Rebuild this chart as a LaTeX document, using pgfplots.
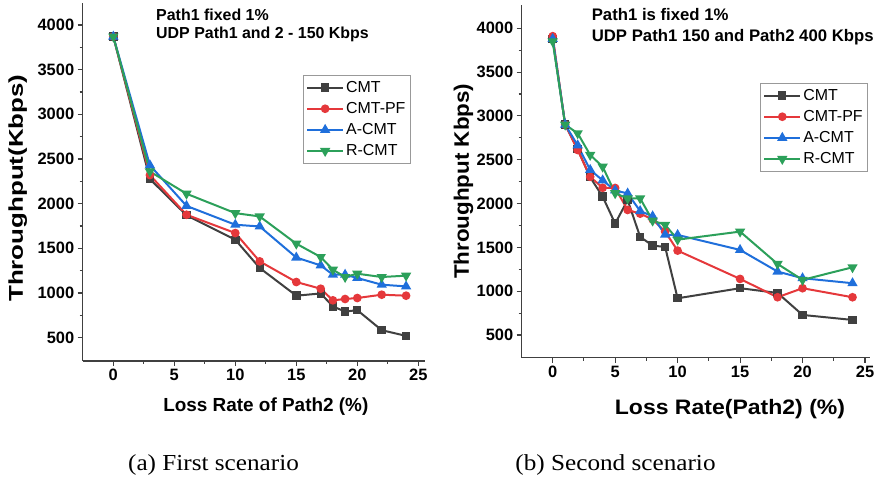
\documentclass[border=0pt]{standalone}
\usepackage{pgfplots}
\pgfplotsset{compat=1.18}
\usepackage{fontspec}
\setmainfont{Liberation Sans}
\newfontfamily\serif{Liberation Serif}
\definecolor{ccmt}{HTML}{404040}
\definecolor{cpf}{HTML}{E5383B}
\definecolor{cacmt}{HTML}{1F6FDB}
\definecolor{crcmt}{HTML}{2CA05A}
\pgfplotsset{
  common/.style={
    scale only axis, anchor=south west, clip=false,
    axis lines=left, axis line style={-, line width=1.2bp, color=black!75},
    tick align=outside, major tick length=5bp, minor tick length=3bp,
    every tick/.style={line width=1.1bp, color=black!75},
    xtick={0,5,...,25}, minor x tick num=1,
    ytick={500,1000,...,4000}, minor y tick num=1,
    ticklabel style={font=\fontsize{16.5}{16.5}\selectfont\bfseries},
    /pgf/number format/assume math mode=true,
    /pgf/number format/set thousands separator={},
    legend cell align=left,
    legend style={draw=black!40, line width=0.7bp, font=\fontsize{16}{19}\selectfont,
      row sep=4.5bp, inner xsep=3bp, inner ysep=4bp, nodes={inner sep=2bp}},
    legend image code/.code={\draw[mark repeat=2,mark phase=2] plot coordinates {(0bp,0bp)(18bp,0bp)(36bp,0bp)};},
  },
  scmt/.style={color=ccmt, line width=2bp, mark=square*, mark size=3.2bp, mark options={solid}},
  spf/.style={color=cpf, line width=2bp, mark=*, mark size=3.3bp},
  sacmt/.style={color=cacmt, line width=2bp, mark=triangle*, mark size=4bp},
  srcmt/.style={color=crcmt, line width=2bp, mark=triangle*, mark size=4bp, mark options={rotate=180}},
}
\pgfplotstableread{
x cmt pf acmt rcmt
0 3870 3870 3870 3870
3 2275 2320 2430 2360
6 1870 1876 1975 2111
10 1596 1671 1764 1894
12 1280 1354 1745 1857
15 970 1123 1397 1552
17 995 1048 1309 1403
18 850 918 1205 1261
19 792 933 1205 1179
20 808 944 1168 1216
22 584 981 1093 1179
24 520 970 1074 1194
}\tabA
\pgfplotstableread{
x cmt pf acmt rcmt
0 3880 3910 3880 3850
1 2900 2900 2900 2900
2 2620 2611 2665 2802
3 2300 2305 2384 2555
4 2079 2180 2265 2421
5 1772 2178 2150 2118
6 2040 1927 2115 2058
7 1620 1885 1915 2060
8 1520 1820 1855 1805
9 1505 1680 1645 1758
10 919 1463 1642 1588
15 1034 1140 1471 1680
18 980 931 1224 1311
20 729 1034 1148 1129
24 672 931 1091 1273
}\tabB
\begin{document}
\begin{tikzpicture}
\useasboundingbox (0,0) rectangle (880bp,479bp);
\begin{axis}[common, at={(82.7bp,118bp)}, width=342.3bp, height=358bp,
  xmin=-2.51, xmax=25.55, ymin=239, ymax=4246,
  xlabel={\fontsize{19}{19}\selectfont\bfseries Loss Rate of Path2 (\%)},
  xlabel style={at={(axis description cs:0.535,-0.127)}, anchor=center},
  ylabel={\fontsize{20}{20}\selectfont\bfseries\scalebox{1.3}[1]{Throughput(Kbps)}},
  ylabel style={at={(axis description cs:-0.19,0.483)}, anchor=center},
  legend style={at={(axis description cs:0.643,0.799)}, anchor=north west},
]
\addplot[scmt] table[x=x,y=cmt]{\tabA};
\addplot[spf] table[x=x,y=pf]{\tabA};
\addplot[sacmt] table[x=x,y=acmt]{\tabA};
\addplot[srcmt] table[x=x,y=rcmt]{\tabA};
\legend{CMT,CMT-PF,A-CMT,R-CMT}
\end{axis}
\begin{axis}[common, at={(521.7bp,121.3bp)}, width=348.3bp, height=352.7bp,
  xmin=-2.48, xmax=25.4, ymin=241, ymax=4266,
  xlabel={\fontsize{21}{21}\selectfont\bfseries\scalebox{1.1}[1]{Loss Rate(Path2) (\%)}},
  xlabel style={at={(axis description cs:0.598,-0.145)}, anchor=center},
  ylabel={\fontsize{21}{21}\selectfont\bfseries\scalebox{1.07}[1]{Throughput Kbps)}},
  ylabel style={at={(axis description cs:-0.167,0.5)}, anchor=center},
  legend style={at={(axis description cs:0.684,0.779)}, anchor=north west},
]
\addplot[scmt] table[x=x,y=cmt]{\tabB};
\addplot[spf] table[x=x,y=pf]{\tabB};
\addplot[sacmt] table[x=x,y=acmt]{\tabB};
\addplot[srcmt] table[x=x,y=rcmt]{\tabB};
\legend{CMT,CMT-PF,A-CMT,R-CMT}
\end{axis}
\node[anchor=base west, font=\fontsize{16}{16}\selectfont\bfseries] at (152.7bp,458.3bp) {Path1 fixed 1\%};
\node[anchor=base west, font=\fontsize{16}{16}\selectfont\bfseries] at (152.7bp,440.7bp) {UDP Path1 and 2 - 150 Kbps};
\node[anchor=base west, font=\fontsize{16.8}{16.8}\selectfont\bfseries] at (588.3bp,458bp) {Path1 is fixed 1\%};
\node[anchor=base west, font=\fontsize{16.8}{16.8}\selectfont\bfseries] at (588.3bp,437.5bp) {UDP Path1 150 and Path2 400 Kbps};
\node[anchor=base, font=\serif\fontsize{23}{23}\selectfont] at (213.5bp,9bp) {\scalebox{1.1}[1]{(a) First scenario}};
\node[anchor=base, font=\serif\fontsize{23}{23}\selectfont] at (615.5bp,9bp) {\scalebox{1.1}[1]{(b) Second scenario}};
\end{tikzpicture}
\end{document}
